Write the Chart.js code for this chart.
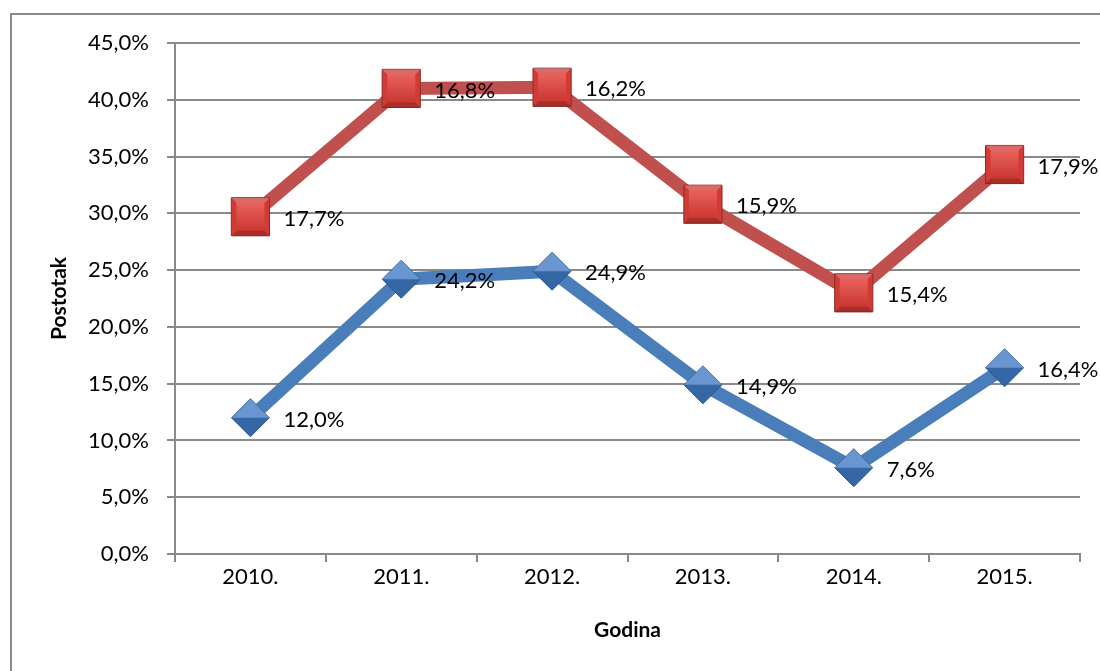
<!DOCTYPE html>
<html>
<head>
<meta charset="utf-8">
<script src="https://cdn.jsdelivr.net/npm/chart.js@4.4.1/dist/chart.umd.min.js"></script>
<style>
  html, body { margin: 0; padding: 0; background: #fff; overflow: hidden; }
  .wrap { position: relative; width: 1100px; height: 671px; }
  .frame { position: absolute; left: 10px; top: 13px; width: 1200px; height: 800px; border: 2px solid #8a8a8a; box-sizing: border-box; }
  canvas { position: absolute; left: 0; top: 0; }
</style>
</head>
<body>
<div class="wrap">
  <div class="frame"></div>
  <canvas id="myChart" width="1100" height="671"></canvas>
</div>
<script>
// years on the x axis
const years = ["2010.", "2011.", "2012.", "2013.", "2014.", "2015."];
// lower series (blue diamonds)
const blueValues = [12.0, 24.2, 24.9, 14.9, 7.6, 16.4];
// upper series, stacked on the blue one (red squares)
const redValues = [17.7, 16.8, 16.2, 15.9, 15.4, 17.9];
const yTicks = [0, 5, 10, 15, 20, 25, 30, 35, 40, 45];

const fontFamily = "Lato, 'Open Sans', sans-serif";
const gridColor = "#8a8a8a";

const fmt = (v) => v.toFixed(1).replace(".", ",") + "%";

// value labels next to each point
const valueLabels = {
	id: "value_labels",
	afterDatasetsDraw: (chart) => {
		const ctx = chart.ctx;
		ctx.save();
		ctx.font = "22px " + fontFamily;
		ctx.fillStyle = "#000";
		ctx.textAlign = "left";
		ctx.textBaseline = "middle";
		chart.data.datasets.forEach((ds, i) => {
			const meta = chart.getDatasetMeta(i);
			meta.data.forEach((pt, j) => {
				ctx.fillText(fmt(ds.data[j]), pt.x + 33, pt.y + 2);
			});
		});
		ctx.restore();
	}
};

// light bevel on top of the markers, like the office 3D effect
const bevel = {
	id: "marker_bevel",
	afterDatasetsDraw: (chart) => {
		const ctx = chart.ctx;
		ctx.save();
		chart.data.datasets.forEach((ds, i) => {
			const meta = chart.getDatasetMeta(i);
			meta.data.forEach((pt) => {
				const x = pt.x, y = pt.y;
				if (ds.pointStyle === "rect") {
					const s = 19, b = 5;
					const g = ctx.createLinearGradient(x, y - s, x, y + s);
					g.addColorStop(0, "#ee6a64");
					g.addColorStop(1, "#c52f2a");
					ctx.fillStyle = g;
					ctx.fillRect(x - s + b, y - s + b, 2 * (s - b), 2 * (s - b));
					ctx.fillStyle = "rgba(255,255,255,0.25)";
					ctx.beginPath();
					ctx.moveTo(x - s, y - s); ctx.lineTo(x + s, y - s);
					ctx.lineTo(x + s - b, y - s + b); ctx.lineTo(x - s + b, y - s + b);
					ctx.fill();
					ctx.fillStyle = "rgba(0,0,0,0.2)";
					ctx.beginPath();
					ctx.moveTo(x - s, y + s); ctx.lineTo(x + s, y + s);
					ctx.lineTo(x + s - b, y + s - b); ctx.lineTo(x - s + b, y + s - b);
					ctx.fill();
				} else {
					const r = 19;
					ctx.fillStyle = "rgba(255,255,255,0.22)";
					ctx.beginPath();
					ctx.moveTo(x - r, y); ctx.lineTo(x, y - r); ctx.lineTo(x + r, y); ctx.closePath();
					ctx.fill();
					ctx.fillStyle = "rgba(0,0,0,0.15)";
					ctx.beginPath();
					ctx.moveTo(x - r, y); ctx.lineTo(x, y + r); ctx.lineTo(x + r, y); ctx.closePath();
					ctx.fill();
				}
			});
		});
		ctx.restore();
	}
};

const ctx = document.getElementById("myChart").getContext("2d");

new Chart(ctx, {
	type: "line",
	data: {
		labels: years,
		datasets: [
			{
				label: "plavo",
				data: blueValues,
				borderColor: "#4a7ebb",
				borderWidth: 13,
				pointStyle: "rectRot",
				pointRadius: 19,
				pointBackgroundColor: "#3f78c4",
				pointBorderColor: "#2f5e9c",
				pointBorderWidth: 1,
				tension: 0
			},
			{
				label: "crveno",
				data: redValues,
				borderColor: "#c0504d",
				borderWidth: 13,
				pointStyle: "rect",
				pointRadius: 27,
				pointBackgroundColor: "#d13a35",
				pointBorderColor: "#8e2b27",
				pointBorderWidth: 1,
				tension: 0
			}
		]
	},
	plugins: [bevel, valueLabels],
	options: {
		responsive: false,
		animation: false,
		layout: { autoPadding: false, padding: { left: 0, right: 20, top: 43, bottom: 0 } },
		plugins: {
			legend: { display: false },
			tooltip: { enabled: false }
		},
		scales: {
			x: {
				offset: true,
				afterFit: (scale) => { scale.height = 117; },
				grid: { offset: true, drawOnChartArea: false, drawTicks: true, tickLength: 8, color: gridColor, lineWidth: 2 },
				border: { color: gridColor, width: 2 },
				ticks: { color: "#000", font: { family: fontFamily, size: 22 }, padding: 2 },
				title: { display: true, text: "Godina", color: "#000", font: { family: fontFamily, size: 21, weight: "bold" }, padding: { bottom: 28 } }
			},
			y: {
				stacked: true,
				min: 0,
				max: 45,
				afterFit: (scale) => { scale.width = 175; },
				afterBuildTicks: (scale) => { scale.ticks = yTicks.map((v) => ({ value: v })); },
				grid: { color: gridColor, lineWidth: 2, tickLength: 8 },
				border: { color: gridColor, width: 2 },
				ticks: { color: "#000", font: { family: fontFamily, size: 22 }, padding: 18, callback: (v) => fmt(v) },
				title: { display: true, text: "Postotak", color: "#000", font: { family: fontFamily, size: 21, weight: "bold" }, padding: { top: 47 } }
			}
		}
	}
});
</script>
</body>
</html>
